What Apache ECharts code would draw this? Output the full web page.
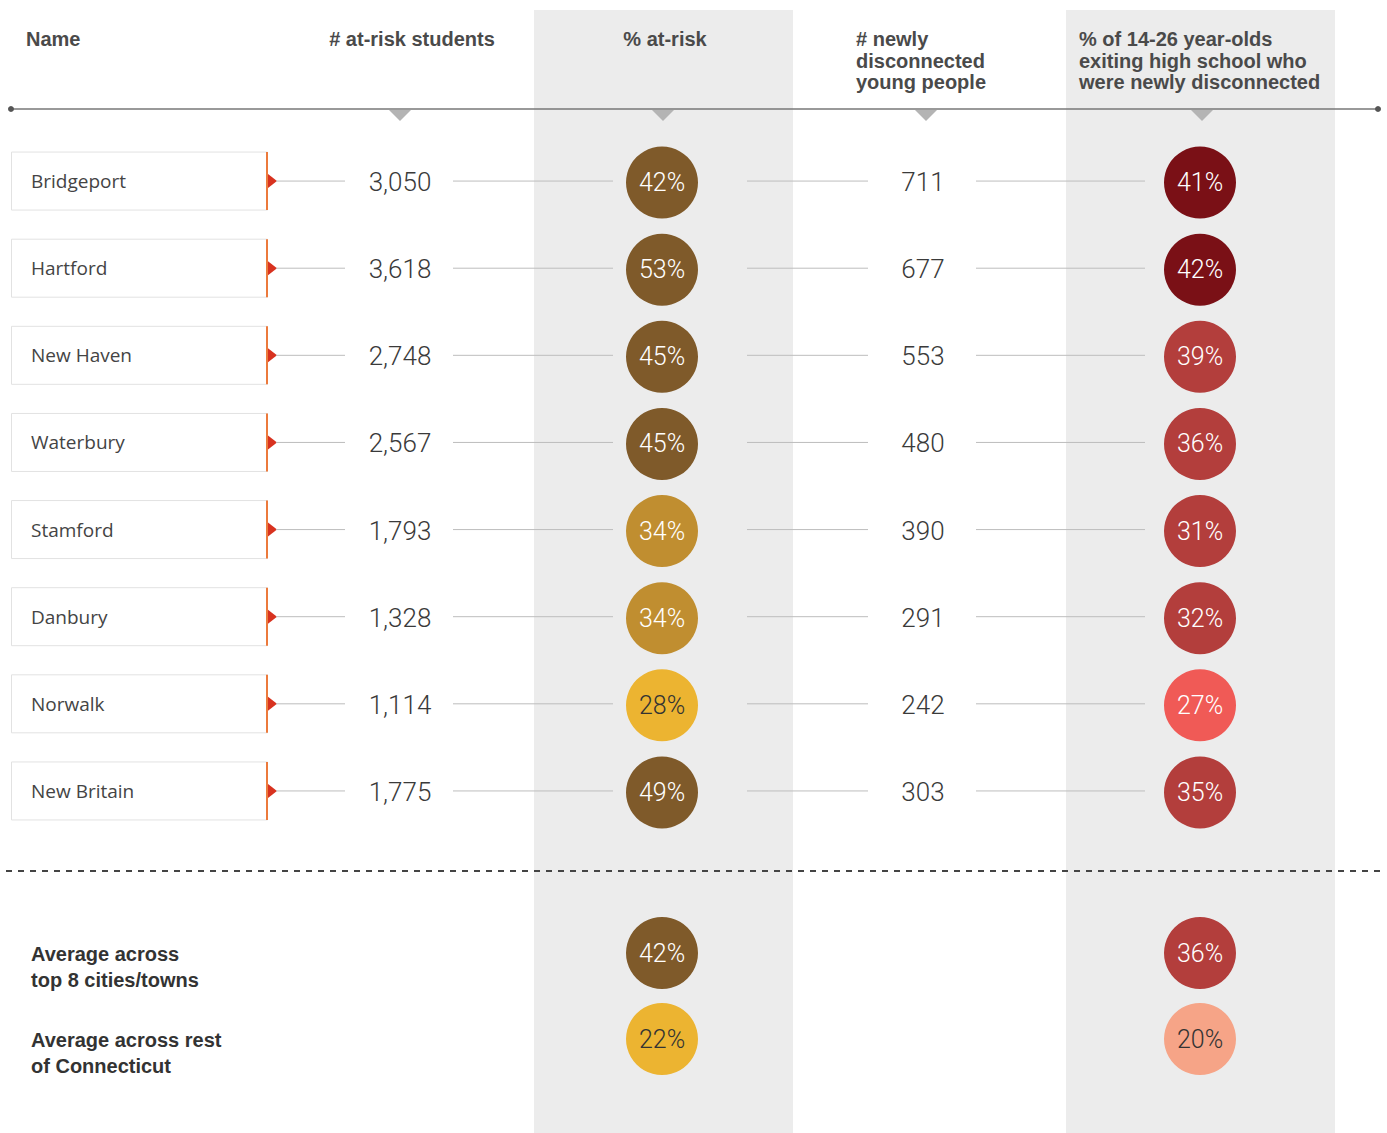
<!DOCTYPE html>
<html><head><meta charset="utf-8">
<script src="https://cdn.jsdelivr.net/npm/echarts@6/dist/echarts.min.js"></script>
<style>html,body{margin:0;padding:0;background:#fff}#c{width:1387px;height:1133px}</style>
</head><body><div id="c"></div>
<script>
// ---------- data ----------
const cities = ['Bridgeport','Hartford','New Haven','Waterbury','Stamford','Danbury','Norwalk','New Britain'];
const atRiskStudents = [3050,3618,2748,2567,1793,1328,1114,1775];
const pctAtRisk = [42,53,45,45,34,34,28,49];
const newlyDisconnected = [711,677,553,480,390,291,242,303];
const pctNewlyDisconnected = [41,42,39,36,31,32,27,35];
const avgLabels = ['Average across\ntop 8 cities/towns','Average across rest\nof Connecticut'];
const avgPctAtRisk = [42,22];
const avgPctNewlyDisconnected = [36,20];
const headers = ['Name','# at-risk students','% at-risk','# newly\ndisconnected\nyoung people','% of 14-26 year-olds\nexiting high school who\nwere newly disconnected'];

// ---------- layout / style ----------
const W = 1387;
const COL = {boxL: 11, boxR: 267, count: 400, pct: 662, newly: 923, pctNew: 1200};
const BANDS = [[534, 793], [1066, 1335]];
const NUM_FONT = 'Roboto';
const HEAD_FONT = 'Liberation Sans';
function atRiskColor(v){ return v >= 40 ? '#7f5a2a' : v >= 30 ? '#c08e30' : '#ecb431'; }
function atRiskText(v){ return v >= 30 ? '#ffffff' : '#333333'; }
function discColor(v){ return v >= 40 ? '#7a1016' : v >= 30 ? '#b33e3c' : v >= 25 ? '#f05a56' : '#f6a487'; }
function discText(v){ return v >= 25 ? '#ffffff' : '#333333'; }

const chart = echarts.init(document.getElementById('c'), null, {renderer: 'svg'});

function circleData(values, x, colorFn, textFn){
  return values.map((v, i) => ({
    value: [x, i, v],
    itemStyle: {color: colorFn(v), opacity: 1},
    label: {color: textFn(v)}
  }));
}

function renderRow(params, api){
  const i = api.value(0);
  const y = api.coord([0, i])[1];
  const X = v => api.coord([v, i])[0];
  const line = (a, b) => ({type: 'line', shape: {x1: X(a), y1: y, x2: X(b), y2: y}, style: {stroke: '#bdbdbd', lineWidth: 1}});
  const txt = (x, t) => ({type: 'text', style: {x: X(x), y: y + 1, text: t, fill: '#3a3a3a', fontFamily: NUM_FONT, fontWeight: 300, fontSize: 26, align: 'center', verticalAlign: 'middle'}});
  return {type: 'group', children: [
    {type: 'rect', shape: {x: X(COL.boxL) + 0.5, y: y - 29, width: COL.boxR - COL.boxL, height: 58}, style: {fill: '#fff', stroke: '#e2e2e2', lineWidth: 1}},
    {type: 'line', shape: {x1: X(COL.boxR), y1: y - 29, x2: X(COL.boxR), y2: y + 29}, style: {stroke: '#ec7a3c', lineWidth: 2}},
    {type: 'polygon', shape: {points: [[X(COL.boxR + 1), y - 7], [X(COL.boxR + 10), y], [X(COL.boxR + 1), y + 7]]}, style: {fill: '#d8321f'}},
    {type: 'text', style: {x: X(COL.boxL + 20), y: y, text: cities[params.dataIndex], fill: '#444', fontFamily: 'Open Sans', fontSize: 19, align: 'left', verticalAlign: 'middle'}},
    line(COL.boxR + 9, COL.count - 55),
    txt(COL.count, api.value(1).toLocaleString('en-US')),
    line(COL.count + 53, COL.pct - 49),
    line(COL.pct + 85, COL.newly - 55),
    txt(COL.newly, String(api.value(3))),
    line(COL.newly + 53, COL.pctNew - 55)
  ]};
}

function renderAvgLabel(params, api){
  const i = api.value(0);
  const y = api.coord([0, i])[1];
  return {type: 'text', style: {x: api.coord([31, i])[0], y: y + 14, text: avgLabels[params.dataIndex], fill: '#333', fontFamily: HEAD_FONT, fontWeight: 'bold', fontSize: 20, lineHeight: 26, align: 'left', verticalAlign: 'middle'}};
}

const circleLabel = {show: true, position: 'inside', formatter: p => p.value[2] + '%', fontFamily: NUM_FONT, fontWeight: 300, fontSize: 25};

const graphics = [];
BANDS.forEach(b => graphics.push({type: 'rect', z: -10, shape: {x: b[0], y: 10, width: b[1] - b[0], height: 1133 - 10}, style: {fill: '#ececec'}}));
// header texts
const headPos = [
  {x: 26, y: 39, align: 'left'},
  {x: 412, y: 39, align: 'center'},
  {x: 665, y: 39, align: 'center'},
  {x: 856, y: 39, align: 'left'},
  {x: 1079, y: 39, align: 'left'}
];
headers.forEach((h, k) => {
  const p = headPos[k];
  graphics.push({type: 'text', z: 5, style: {x: p.x, y: p.y - 10.75, text: h, fill: '#4a4a4a', fontFamily: HEAD_FONT, fontWeight: 'bold', fontSize: 20, lineHeight: 21.5, align: p.align, verticalAlign: 'top'}});
});
graphics.push({type: 'line', z: 5, shape: {x1: 11, y1: 109, x2: 1378, y2: 109}, style: {stroke: '#777', lineWidth: 1.5}});
graphics.push({type: 'circle', z: 5, shape: {cx: 11, cy: 109, r: 3}, style: {fill: '#555'}});
graphics.push({type: 'circle', z: 5, shape: {cx: 1378, cy: 109, r: 3}, style: {fill: '#555'}});
[COL.count, COL.pct + 1, COL.newly + 3, COL.pctNew + 2].forEach(x => graphics.push({type: 'polygon', z: 5, shape: {points: [[x - 11, 110], [x + 11, 110], [x, 121]]}, style: {fill: '#b4b4b4'}}));
graphics.push({type: 'line', z: 5, shape: {x1: 6, y1: 871, x2: 1380, y2: 871}, style: {stroke: '#444', lineWidth: 2, lineDash: [6, 6]}});

const scatterBase = {type: 'scatter', z: 4, symbolSize: 72, label: circleLabel, emphasis: {disabled: true}};

chart.setOption({
  animation: false,
  backgroundColor: '#fff',
  graphic: graphics,
  grid: [
    {left: 0, right: 0, top: 137.5, height: 697},
    {left: 0, right: 0, top: 910, height: 172}
  ],
  xAxis: [
    {gridIndex: 0, type: 'value', min: 0, max: W, show: false},
    {gridIndex: 1, type: 'value', min: 0, max: W, show: false}
  ],
  yAxis: [
    {gridIndex: 0, type: 'category', inverse: true, data: cities, show: false},
    {gridIndex: 1, type: 'category', inverse: true, data: avgLabels, show: false}
  ],
  series: [
    {type: 'custom', xAxisIndex: 0, yAxisIndex: 0, z: 3, renderItem: renderRow,
     data: cities.map((c, i) => [i, atRiskStudents[i], pctAtRisk[i], newlyDisconnected[i], pctNewlyDisconnected[i]])},
    Object.assign({}, scatterBase, {xAxisIndex: 0, yAxisIndex: 0, symbolOffset: [0, 1.5],
     data: circleData(pctAtRisk, COL.pct, atRiskColor, atRiskText)}),
    Object.assign({}, scatterBase, {xAxisIndex: 0, yAxisIndex: 0, symbolOffset: [0, 1.5],
     data: circleData(pctNewlyDisconnected, COL.pctNew, discColor, discText)}),
    {type: 'custom', xAxisIndex: 1, yAxisIndex: 1, z: 3, renderItem: renderAvgLabel,
     data: avgLabels.map((l, i) => [i])},
    Object.assign({}, scatterBase, {xAxisIndex: 1, yAxisIndex: 1,
     data: circleData(avgPctAtRisk, COL.pct, atRiskColor, atRiskText)}),
    Object.assign({}, scatterBase, {xAxisIndex: 1, yAxisIndex: 1,
     data: circleData(avgPctNewlyDisconnected, COL.pctNew, discColor, discText)})
  ]
});
</script></body></html>
